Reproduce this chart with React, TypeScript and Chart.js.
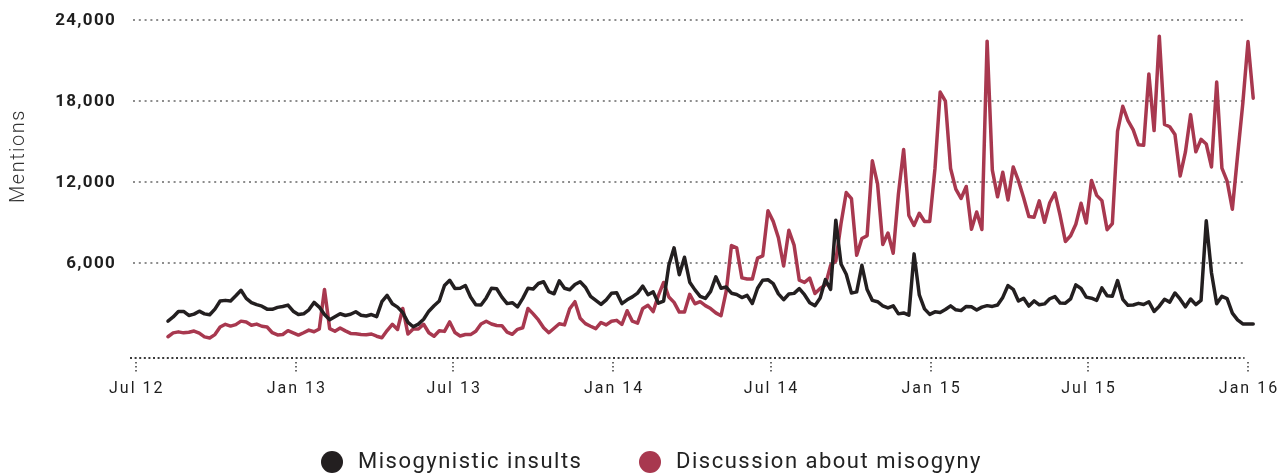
import React, { useEffect, useRef } from "react";
import { Chart, registerables } from "chart.js";

Chart.register(...registerables);

// Time axis: days after 1 Jul 2012
const START_DAY = 37; // first observation, 7 Aug 2012
const STEP_DAYS = 6;

const tickDays = [0, 184, 365, 549, 730, 914, 1095, 1279];
const tickLabels = ["Jul 12", "Jan 13", "Jul 13", "Jan 14", "Jul 14", "Jan 15", "Jul 15", "Jan 16"];
const yTicks = [6000, 12000, 18000, 24000];
const yTitle = "Mentions";

const seriesNames = ["Misogynistic insults", "Discussion about misogyny"];
const seriesColors = ["#231f20", "#a8384f"];

const insults = [
  1666, 1970, 2380, 2380, 2080, 2180, 2400, 2200, 2130, 2550,
  3150, 3200, 3150, 3540, 3950, 3350, 3030, 2880, 2770, 2550,
  2540, 2680, 2750, 2850, 2400, 2150, 2200, 2500, 3050, 2700,
  2150, 1760, 1980, 2210, 2080, 2170, 2360, 2100, 2040, 2150,
  1990, 3100, 3570, 2950, 2700, 2300, 1570, 1245, 1440, 1800,
  2400, 2800, 3150, 4300, 4690, 4080, 4100, 4300, 3450, 2880,
  2850, 3380, 4100, 4060, 3440, 2960, 3030, 2720, 3350, 4100,
  4050, 4450, 4580, 3850, 3690, 4650, 4100, 3990, 4380, 4580,
  4180, 3500, 3200, 2900, 3240, 3720, 3760, 2960, 3240, 3460,
  3740, 4260, 3620, 3830, 2990, 3150, 5800, 7100, 5100, 6400,
  4550, 3980, 3500, 3340, 3870, 4950, 4100, 4190, 3730, 3635,
  3410, 3570, 2970, 4100, 4700, 4730, 4440, 3680, 3250, 3670,
  3720, 4070, 3620, 3030, 2810, 3370, 4740, 4010, 9150, 5900,
  5140, 3740, 3830, 5800, 4000, 3200, 3100, 2800, 2640, 2800,
  2200, 2270, 2100, 6650, 3600, 2570, 2160, 2350, 2300, 2520,
  2790, 2500, 2440, 2750, 2720, 2480, 2700, 2810, 2750, 2860,
  3420, 4300, 4020, 3150, 3350, 2780, 3160, 2870, 2940, 3320,
  3480, 3000, 2990, 3310, 4350, 4080, 3440, 3360, 3200, 4130,
  3540, 3510, 4670, 3280, 2830, 2860, 2980, 2890, 3100, 2380,
  2770, 3280, 3070, 3750, 3290, 2720, 3300, 2880, 3200, 9100,
  5250, 2950, 3500, 3330, 2250, 1750, 1450, 1450, 1450,
];

const discussion = [
  503, 790, 865, 790, 830, 924, 770, 490, 410, 660,
  1220, 1425, 1290, 1400, 1660, 1600, 1350, 1440, 1280, 1225,
  800, 635, 670, 950, 790, 626, 800, 995, 870, 1080,
  4000, 1100, 910, 1150, 940, 750, 726, 676, 650, 705,
  540, 428, 960, 1420, 1040, 2600, 700, 1070, 1075, 1430,
  800, 540, 950, 900, 1600, 820, 560, 670, 660, 910,
  1450, 1650, 1450, 1340, 1320, 850, 680, 1050, 1171, 2600,
  2200, 1750, 1170, 800, 1130, 1470, 1380, 2580, 3100, 1870,
  1475, 1280, 1100, 1560, 1380, 1650, 1718, 1410, 2430, 1660,
  1515, 2600, 2839, 2370, 3570, 4530, 3450, 3050, 2330, 2330,
  3650, 2950, 3100, 2810, 2590, 2270, 2060, 3880, 7270, 7100,
  4870, 4780, 4780, 6330, 6500, 9850, 9060, 7850, 5750, 8400,
  7300, 4700, 4530, 4850, 3710, 4084, 4350, 5800, 6125, 8900,
  11200, 10750, 6550, 7790, 8000, 13550, 11850, 7350, 8200, 6700,
  11100, 14390, 9500, 8760, 9660, 9050, 9060, 12950, 18650, 17980,
  12980, 11450, 10760, 11650, 8480, 9760, 8460, 22430, 12860, 10880,
  12700, 10650, 13100, 12080, 10820, 9420, 9370, 10580, 8990, 10440,
  11170, 9480, 7570, 7990, 8850, 10400, 8940, 12100, 10990, 10600,
  8440, 8900, 15750, 17600, 16540, 15850, 14740, 14700, 20000, 15800,
  22800, 16250, 16080, 15500, 12430, 14190, 16980, 14220, 15140, 14800,
  13100, 19400, 13010, 12050, 9960, 13930, 17800, 22400, 18200,
];

const toPoints = (vals: number[]) =>
  vals.map((v, i) => ({ x: START_DAY + i * STEP_DAYS, y: v }));

const axisPlugin = {
  id: "customAxes",
  beforeDatasetsDraw(chart: any) {
    const { ctx, chartArea, scales } = chart;
    const x = scales.x;
    const y = scales.y;
    const gridRight = x.getPixelForValue(1275);
    ctx.save();
    ctx.lineWidth = 2;
    ctx.strokeStyle = "#8d8d8d";
    ctx.setLineDash([2, 3.8]);
    for (const t of yTicks) {
      const py = Math.round(y.getPixelForValue(t));
      ctx.beginPath();
      ctx.moveTo(chartArea.left, py);
      ctx.lineTo(gridRight, py);
      ctx.stroke();
    }
    const by = Math.round(chartArea.bottom);
    ctx.strokeStyle = "#3a3a3a";
    ctx.setLineDash([2, 2.6]);
    ctx.beginPath();
    ctx.moveTo(chartArea.left - 3, by);
    ctx.lineTo(gridRight, by);
    ctx.stroke();
    ctx.setLineDash([1.5, 2.5]);
    ctx.lineWidth = 1.5;
    for (const d of tickDays) {
      const px = Math.round(x.getPixelForValue(d));
      ctx.beginPath();
      ctx.moveTo(px, by + 4);
      ctx.lineTo(px, by + 15);
      ctx.stroke();
    }
    ctx.restore();
  },
  afterDraw(chart: any) {
    const { ctx, chartArea, scales } = chart;
    const x = scales.x;
    const y = scales.y;
    ctx.save();
    // y tick labels
    ctx.fillStyle = "#1e1e1e";
    ctx.font = "bold 17px Roboto";
    (ctx as any).letterSpacing = "1.3px";
    ctx.textAlign = "right";
    ctx.textBaseline = "middle";
    for (const t of yTicks) {
      const py = y.getPixelForValue(t);
      ctx.fillText(t.toLocaleString("en-US"), chartArea.left - 17, py + 1);
    }
    // x tick labels
    ctx.font = "16px Roboto";
    (ctx as any).letterSpacing = "2px";
    ctx.textAlign = "center";
    for (let i = 0; i < tickDays.length; i++) {
      const px = x.getPixelForValue(tickDays[i]);
      ctx.fillText(tickLabels[i], px + 1, chartArea.bottom + 31);
    }
    // y title
    ctx.save();
    ctx.translate(19, 156);
    ctx.rotate(-Math.PI / 2);
    ctx.font = "300 20px Roboto";
    (ctx as any).letterSpacing = "1.5px";
    ctx.fillStyle = "#333";
    ctx.textAlign = "center";
    ctx.fillText(yTitle, 0, 0);
    ctx.restore();
    // legend
    const legendY = 462;
    const legendX = [332, 650];
    ctx.font = "22px Roboto";
    (ctx as any).letterSpacing = "1.5px";
    ctx.textAlign = "left";
    ctx.textBaseline = "middle";
    for (let i = 0; i < seriesNames.length; i++) {
      ctx.fillStyle = seriesColors[i];
      ctx.beginPath();
      ctx.arc(legendX[i], legendY, 11, 0, Math.PI * 2);
      ctx.fill();
      ctx.fillStyle = "#222";
      ctx.fillText(seriesNames[i], legendX[i] + 26, legendY);
    }
    ctx.restore();
  },
};

export default function App() {
  const canvasRef = useRef<HTMLCanvasElement | null>(null);

  useEffect(() => {
    const canvas = canvasRef.current;
    if (!canvas) return;
    const chart = new Chart(canvas, {
      type: "line",
      data: {
        datasets: [
          {
            label: seriesNames[0],
            data: toPoints(insults),
            borderColor: seriesColors[0],
            backgroundColor: seriesColors[0],
            borderWidth: 3.5,
            pointRadius: 0,
            tension: 0,
            clip: false as any,
            borderJoinStyle: "round",
            borderCapStyle: "round",
          },
          {
            label: seriesNames[1],
            data: toPoints(discussion),
            borderColor: seriesColors[1],
            backgroundColor: seriesColors[1],
            borderWidth: 3.5,
            pointRadius: 0,
            tension: 0,
            clip: false as any,
            borderJoinStyle: "round",
            borderCapStyle: "round",
          },
        ],
      },
      options: {
        animation: false,
        responsive: false,
        maintainAspectRatio: false,
        layout: { padding: { top: 20, right: 29, left: 0, bottom: 0 } },
        plugins: { legend: { display: false }, tooltip: { enabled: false } },
        scales: {
          x: {
            type: "linear",
            min: -3.2,
            max: 1288.2,
            grid: { display: false },
            border: { display: false },
            ticks: { display: false },
            afterFit: (s: any) => {
              s.height = 116;
            },
          },
          y: {
            min: -1075,
            max: 24000,
            grid: { display: false },
            border: { display: false },
            ticks: { display: false },
            afterFit: (s: any) => {
              s.width = 133;
            },
          },
        },
      },
      plugins: [axisPlugin],
    });
    return () => chart.destroy();
  }, []);

  return (
    <div style={{ position: "absolute", left: 0, top: 0, width: 1285, height: 474, background: "#fff" }}>
      <canvas ref={canvasRef} width={1285} height={474} style={{ width: 1285, height: 474, display: "block" }} />
    </div>
  );
}
